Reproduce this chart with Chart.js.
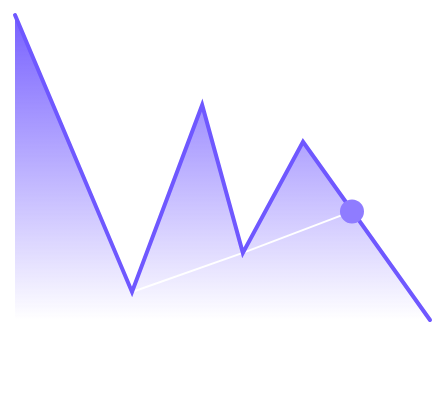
<!DOCTYPE html>
<html>
<head>
<meta charset="utf-8">
<script src="https://cdn.jsdelivr.net/npm/chart.js@4"></script>
<style>
  html, body { margin: 0; padding: 0; background: #fff; }
  #wrap { width: 448px; height: 419px; }
</style>
</head>
<body>
<div id="wrap"><canvas id="trendChart"></canvas></div>
<script>
// values, both axes on a 0..100 scale
const mainX = [0, 28.2, 45.1, 54.9, 69.4, 100];
const mainY = [100, 9.2, 70.5, 22, 58.4, 0];
const trendX = [28.2, 54.9, 81.2];
const trendY = [9.2, 22, 35.6];
const markerX = [81.2];
const markerY = [35.6];

const toPoints = (xs, ys) => xs.map((x, i) => ({ x: x, y: ys[i] }));

function fillGradient(context) {
  const area = context.chart.chartArea;
  if (!area) return 'rgba(112,88,255,0.5)';
  const g = context.chart.ctx.createLinearGradient(0, area.top, 0, area.bottom);
  g.addColorStop(0, 'rgba(112,88,255,0.95)');
  g.addColorStop(1, 'rgba(112,88,255,0)');
  return g;
}

const ctx = document.getElementById('trendChart');

new Chart(ctx, {
  type: 'line',
  data: {
    datasets: [{
      data: toPoints(markerX, markerY),
      pointRadius: 12,
      pointBackgroundColor: '#8f7cff',
      pointBorderWidth: 0,
      showLine: false,
      order: 0
    }, {
      data: toPoints(mainX, mainY),
      borderColor: '#6f58ff',
      borderWidth: 4,
      borderCapStyle: 'round',
      backgroundColor: fillGradient,
      fill: 'start',
      pointRadius: 0,
      tension: 0,
      order: 1
    }, {
      data: toPoints(trendX, trendY),
      borderColor: '#ffffff',
      borderWidth: 2,
      pointRadius: 0,
      fill: false,
      tension: 0,
      order: 2
    }]
  },
  options: {
    responsive: true,
    maintainAspectRatio: false,
    animation: false,
    layout: { padding: { left: 15, right: 18, top: 15, bottom: 99 } },
    plugins: {
      legend: { display: false },
      tooltip: { enabled: false },
      filler: { drawTime: 'beforeDatasetsDraw' }
    },
    events: [],
    clip: false,
    scales: {
      x: { type: 'linear', min: 0, max: 100, display: false },
      y: { min: 0, max: 100, display: false }
    }
  }
});
</script>
</body>
</html>
